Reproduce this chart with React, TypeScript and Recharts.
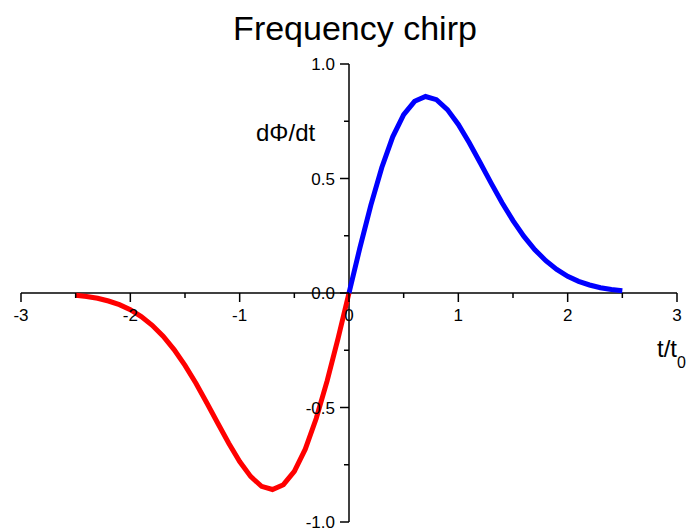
import { LineChart, Line, XAxis, YAxis, ReferenceLine, ReferenceDot } from 'recharts';

// sample times t/t0
const times = [
  -2.5, -2.4, -2.3, -2.2, -2.1, -2.0, -1.9, -1.8, -1.7, -1.6, -1.5, -1.4, -1.3, -1.2, -1.1, -1.0,
  -0.9, -0.8, -0.7, -0.6, -0.5, -0.4, -0.3, -0.2, -0.1, 0.0,
  0.1, 0.2, 0.3, 0.4, 0.5, 0.6, 0.7, 0.8, 0.9, 1.0, 1.1, 1.2, 1.3, 1.4, 1.5,
  1.6, 1.7, 1.8, 1.9, 2.0, 2.1, 2.2, 2.3, 2.4, 2.5,
];

// dPhi/dt for t <= 0 (red branch)
const chirpNeg = [
  -0.01, -0.015, -0.023, -0.035, -0.051, -0.073, -0.103, -0.141, -0.189, -0.247, -0.316, -0.394,
  -0.48, -0.569, -0.656, -0.736, -0.801, -0.844, -0.858, -0.837, -0.779, -0.682, -0.548, -0.384,
  -0.198, 0,
];

// dPhi/dt for t >= 0 (blue branch)
const chirpPos = [
  0, 0.198, 0.384, 0.548, 0.682, 0.779, 0.837, 0.858, 0.844, 0.801, 0.736, 0.656, 0.569, 0.48,
  0.394, 0.316, 0.247, 0.189, 0.141, 0.103, 0.073, 0.051, 0.035, 0.023, 0.015, 0.01,
];

const xMajor = [-3, -2, -1, 0, 1, 2, 3];
const xMinor = [-2.5, -1.5, -0.5, 0.5, 1.5, 2.5];
const xLabels = ['-3', '-2', '-1', '0', '1', '2', '3'];
const yMajor = [-1, -0.5, 0, 0.5, 1];
const yMinor = [-0.75, -0.25, 0.25, 0.75];
const yLabels = ['-1.0', '-0.5', '0.0', '0.5', '1.0'];

const FONT = '"Liberation Sans", Arial, sans-serif';
const W = 688;
const H = 532;

const negStart = times.length - chirpNeg.length;
const data = times.map((t, i) => ({
  t,
  neg: i < chirpNeg.length ? chirpNeg[i] : null,
  pos: i >= negStart ? chirpPos[i - negStart] : null,
}));

const tickDown = (len: number) => (p: any) => (
  <line x1={p.cx} y1={p.cy} x2={p.cx} y2={p.cy + len} stroke="#000" strokeWidth={1.5} />
);
const tickLeft = (len: number) => (p: any) => (
  <line x1={p.cx} y1={p.cy} x2={p.cx - len} y2={p.cy} stroke="#000" strokeWidth={1.5} />
);

export default function App() {
  return (
    <div style={{ position: 'absolute', left: 0, top: 0, width: W, height: H, background: '#fff' }}>
      <LineChart width={W} height={H} data={data} margin={{ top: 64, right: 11, left: 21, bottom: 10 }}>
        <XAxis dataKey="t" type="number" domain={[-3, 3]} hide />
        <YAxis type="number" domain={[-1, 1]} hide />

        <ReferenceLine y={0} stroke="#000" strokeWidth={1.5} />
        <ReferenceLine x={0} stroke="#000" strokeWidth={1.5} />

        {xMajor.map((v, i) => (
          <ReferenceDot
            key={`xM${v}`}
            x={v}
            y={0}
            r={1}
            shape={tickDown(9)}
            label={{ value: xLabels[i], position: 'bottom', offset: 15, fontSize: 17, fill: '#000', fontFamily: FONT }}
          />
        ))}
        {xMinor.map((v) => (
          <ReferenceDot key={`xm${v}`} x={v} y={0} r={1} shape={tickDown(5)} />
        ))}
        {yMajor.map((v, i) => (
          <ReferenceDot
            key={`yM${v}`}
            x={0}
            y={v}
            r={1}
            shape={tickLeft(9)}
            label={{ value: yLabels[i], position: 'left', offset: 13, fontSize: 17, fill: '#000', fontFamily: FONT }}
          />
        ))}
        {yMinor.map((v) => (
          <ReferenceDot key={`ym${v}`} x={0} y={v} r={1} shape={tickLeft(5)} />
        ))}

        <Line dataKey="neg" type="linear" stroke="#ff0000" strokeWidth={5} dot={false} isAnimationActive={false} connectNulls={false} />
        <Line dataKey="pos" type="linear" stroke="#0000ff" strokeWidth={5} dot={false} isAnimationActive={false} connectNulls={false} />
      </LineChart>

      <svg width={W} height={H} style={{ position: 'absolute', left: 0, top: 0, pointerEvents: 'none' }}>
        <text x={355} y={40} textAnchor="middle" fontSize={34} fontFamily={FONT} fill="#000">
          Frequency chirp
        </text>
        <text x={256} y={141} fontSize={24} fontFamily={FONT} fill="#000">
          dΦ/dt
        </text>
        <text x={657} y={357} fontSize={24} fontFamily={FONT} fill="#000">
          t/t<tspan fontSize={16} dy={11}>0</tspan>
        </text>
      </svg>
    </div>
  );
}
